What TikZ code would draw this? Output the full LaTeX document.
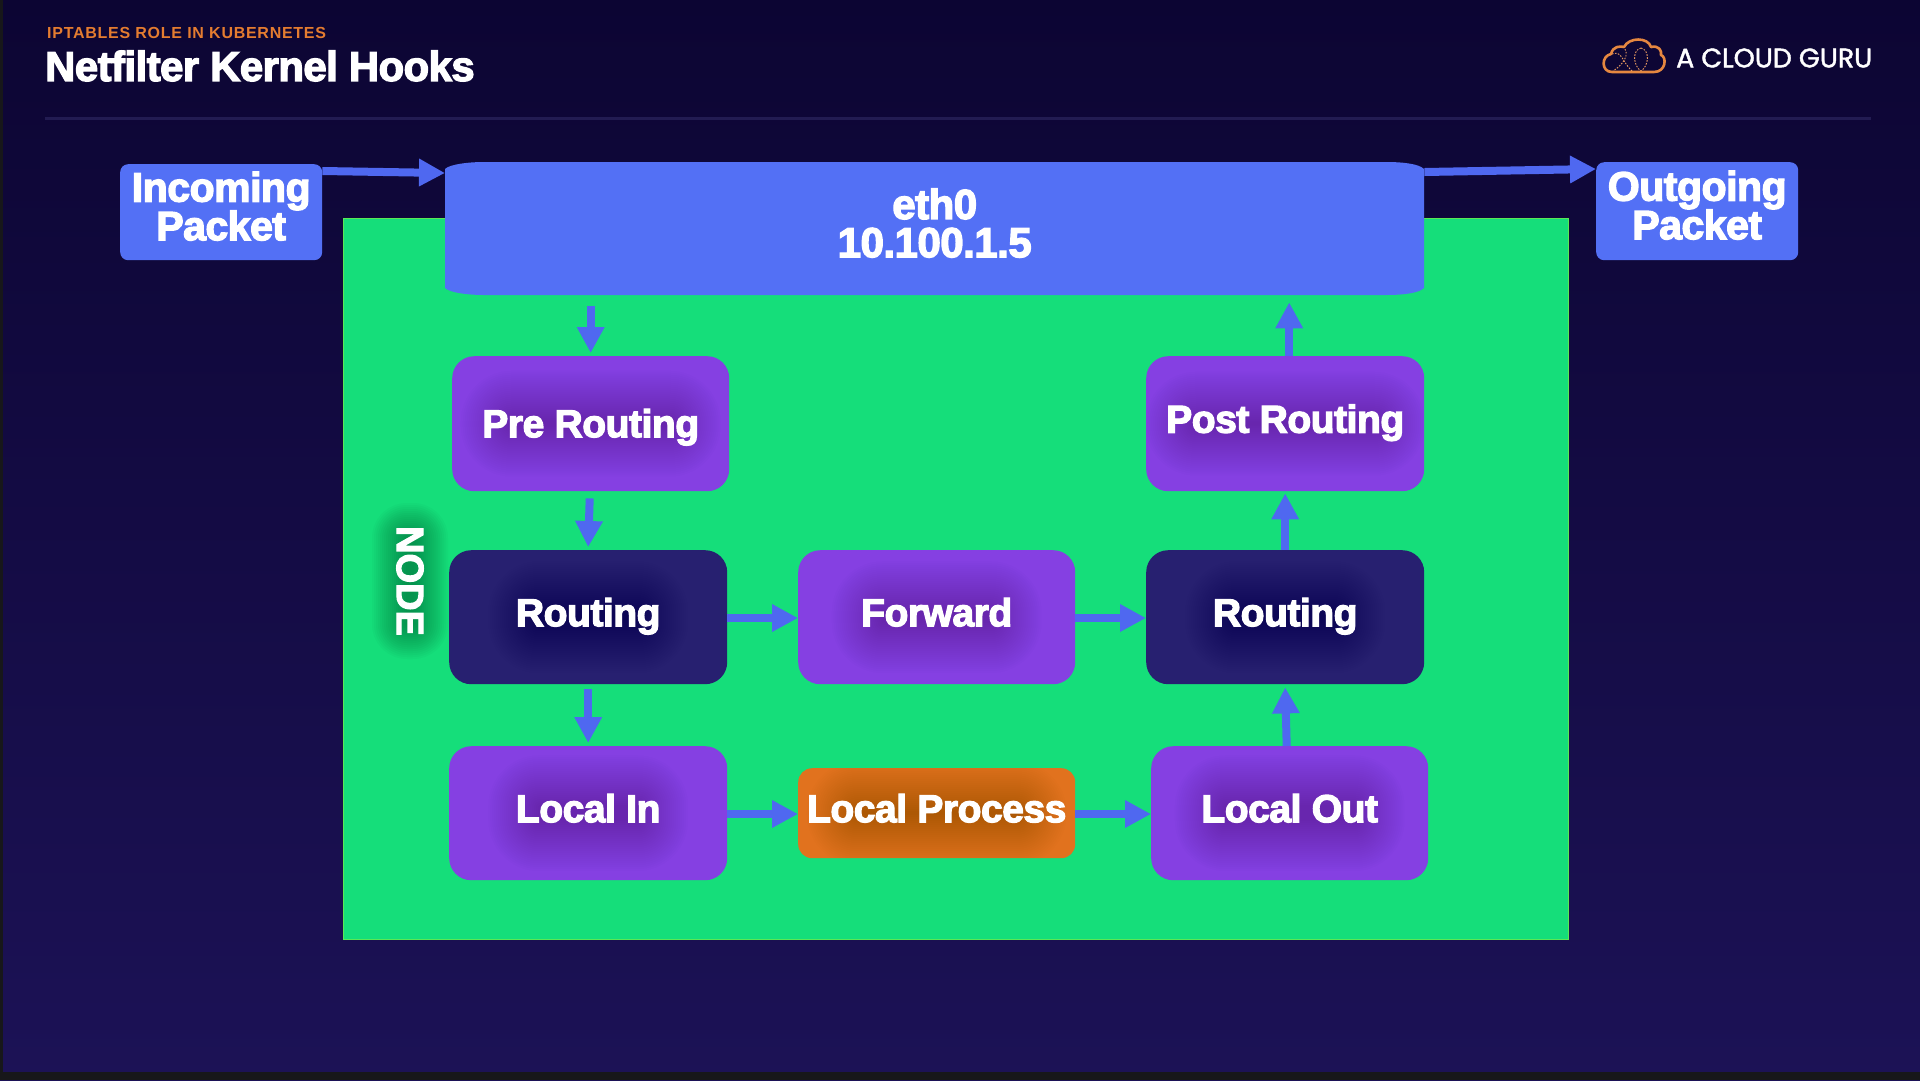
\documentclass[tikz,border=0pt]{standalone}
\usepackage{fontspec}
\setmainfont{Liberation Sans}
\newfontfamily\heavyfont[FakeBold=3.2,LetterSpace=-1.2]{Liberation Sans Bold}
\newfontfamily\sidefont[FakeBold=3]{Liberation Sans Bold}
\newfontfamily\subfont[LetterSpace=4.6]{Liberation Sans Bold}
\newfontfamily\brandfont[FakeBold=1.6]{Poppins}
\usetikzlibrary{arrows.meta,calc}
\definecolor{bgtop}{HTML}{0C0533}
\definecolor{bgbot}{HTML}{1C1256}
\definecolor{rulec}{HTML}{221B52}
\definecolor{edgebar}{HTML}{17171A}
\definecolor{nodegreen}{HTML}{15DE7A}
\definecolor{acgblue}{HTML}{5370F5}
\definecolor{acgarrow}{HTML}{4F68F0}
\definecolor{acgpurple}{HTML}{8540E2}
\definecolor{acgnavy}{HTML}{272070}
\definecolor{acgorange}{HTML}{E1721E}
\definecolor{kickerc}{HTML}{E47C30}
\newcommand{\softglow}[6]{% centre coordinate, half-width, half-height, colour, layer opacity, reach
  \foreach \spread in {0,2,...,#6}{
    \fill[#4,opacity=#5,rounded corners=\spread pt+1pt]
      ($(#1)+(-#2-\spread,-#3-\spread)$) rectangle ($(#1)+(#2+\spread,#3+\spread)$);
  }}
% text set on a baseline #1 points below the centre of its box
\newcommand{\onbase}[2]{\raisebox{-#1pt}[0pt][0pt]{#2}}
\newcommand{\twolines}[3]{\raisebox{-#1pt}[0pt][0pt]{\begin{tabular}[b]{@{}c@{}}#2\\[-2.5pt]#3\end{tabular}}}
\tikzset{
  x=1pt,y=-1pt,
  boxlabel/.style={text=white,font=\heavyfont\fontsize{39}{38}\selectfont,align=center,inner sep=0pt},
  hookbox/.style={boxlabel,rounded corners=22pt,minimum width=277pt,anchor=north west},
  glowing/.style 2 args={path picture={\softglow{path picture bounding box.center}{#1}{#2}{black}{.0095}{50}}},
  purplebox/.style={hookbox,fill=acgpurple,minimum height=134pt},
  navybox/.style={hookbox,fill=acgnavy,minimum height=134pt},
  packetbox/.style={boxlabel,fill=acgblue,rounded corners=8pt,minimum width=202pt,anchor=north west,font=\heavyfont\fontsize{41}{38}\selectfont},
  flow/.style={draw=acgarrow,line width=8pt,-{Triangle[length=26pt,width=26pt,fill=acgarrow]}},
}
\begin{document}
\begin{tikzpicture}
\useasboundingbox (0,0) rectangle (1920,1080);
% background
\shade[top color=bgtop,bottom color=bgbot,middle color=bgtop!50!bgbot] (0,0) rectangle (1920,1080);
\fill[edgebar] (0,0) rectangle (3,1080);
\fill[edgebar] (0,1072) rectangle (1920,1080);
\fill[rulec] (45,116.5) rectangle (1871,119.5);
% header
\node[anchor=west,inner sep=0pt,text=kickerc,font=\subfont\fontsize{16}{16}\selectfont] (kicker) at (47,33) {IPTABLES ROLE IN KUBERNETES};
\node[anchor=west,inner sep=0pt,text=white,font=\heavyfont\fontsize{41.8}{41.8}\selectfont] (title) at (45,66) {Netfilter Kernel Hooks};
\node[anchor=west,inner sep=0pt,text=white,font=\brandfont\fontsize{26.8}{26.8}\selectfont] (brand) at (1676,58) {A CLOUD GURU};
% cloud logo
\draw[acgorange!85!white,line width=2.6pt,line join=round]
  (1612,72) .. controls (1601,72) and (1601,56) .. (1611,54)
  .. controls (1613,46) and (1620,46) .. (1624,47)
  .. controls (1629,37) and (1648,37) .. (1651,47)
  .. controls (1659,45) and (1662,51) .. (1661,55)
  .. controls (1667,57) and (1666,72) .. (1654,72) -- cycle;
\draw[acgorange!70!white,line width=.9pt,dash pattern=on 1.6pt off 1.4pt]
  (1612,54) .. controls (1622,50) and (1622,62) .. (1632,71)
  (1625,49) .. controls (1630,58) and (1618,68) .. (1613,71)
  (1641,48) .. controls (1632,50) and (1633,66) .. (1641,71)
  (1641,48) .. controls (1650,50) and (1649,66) .. (1641,71);
% node area
\fill[nodegreen] (343,218) rectangle (1568,939);
\draw[nodegreen!70!yellow,line width=1pt] (343,218) rectangle (1568,939);
% NODE label
\coordinate (nodeglow) at (410,581);
\softglow{nodeglow}{4}{44}{black!70!nodegreen}{.03}{34}
\node[rotate=-90,inner sep=0pt,text=white,font=\sidefont\fontsize{38}{38}\selectfont] (nodelabel) at (410,581) {NODE};
% eth0 shape
\fill[acgblue] (445,169) .. controls (450,164) and (470,162) .. (483,162) -- (1386,162)
  .. controls (1404,162) and (1419,164) .. (1424,169) -- (1424,288)
  .. controls (1419,293) and (1404,295) .. (1386,295) -- (483,295)
  .. controls (470,295) and (450,293) .. (445,288) -- cycle;
\node[boxlabel,minimum width=979pt,minimum height=133pt,anchor=north west,font=\heavyfont\fontsize{42}{38}\selectfont] (eth) at (445,162) {\twolines{28.5}{eth0}{10.100.1.5}};
% packets
\node[packetbox,minimum height=96pt] (inpkt) at (120,164) {\twolines{28}{Incoming}{Packet}};
\node[packetbox,minimum height=98pt] (outpkt) at (1596,162) {\twolines{28}{Outgoing}{Packet}};
% hook boxes
\node[purplebox,glowing={80}{3},minimum height=135pt] (pre) at (452,356) {\onbase{13.5}{Pre Routing}};
\node[purplebox,glowing={90}{2},minimum width=278pt,minimum height=135pt] (post) at (1146,356) {\onbase{9}{Post Routing}};
\node[navybox,glowing={50}{6},minimum width=278pt] (routa) at (449,550) {\onbase{9}{Routing}};
\node[purplebox,glowing={55}{6}] (fwd) at (798,550) {\onbase{9}{Forward}};
\node[navybox,glowing={50}{6},minimum width=278pt] (routb) at (1146,550) {\onbase{9}{Routing}};
\node[purplebox,glowing={50}{8},minimum width=278pt] (lin) at (449,746) {\onbase{9}{Local In}};
\node[hookbox,glowing={80}{2},fill=acgorange,minimum height=90pt,rounded corners=14pt] (lproc) at (798,768) {\onbase{9}{Local Process}};
\node[purplebox,glowing={65}{8}] (lout) at (1151,746) {\onbase{9}{Local Out}};
% connectors
\draw[flow] ($(inpkt.north east)+(0,7)$) -- ($(eth.north west)+(0,11)$);
\draw[flow] ($(eth.north east)+(0,10)$) -- ($(outpkt.north west)+(0,7)$);
\draw[flow] ($(pre.north |- eth.south)+(0,11)$) -- ($(pre.north)+(0,-3)$);
\draw[flow] ($(pre.south)+(-1,7)$) -- ($(routa.north)+(0,-3)$);
\draw[flow] ($(routa.south)+(0,5)$) -- ($(lin.north)+(0,-3)$);
\draw[flow] (routa.east |- 0,618) -- (fwd.west |- 0,618);
\draw[flow] (fwd.east |- 0,618) -- (routb.west |- 0,618);
\draw[flow] (lin.east |- 0,814) -- (lproc.west |- 0,814);
\draw[flow] (lproc.east |- 0,814) -- (lout.west |- 0,814);
\draw[flow] ($(lout.north)+(-3,0)$) -- ($(routb.south)+(0,3)$);
\draw[flow] ($(routb.north)+(0,0)$) -- ($(post.south)+(0,2)$);
\draw[flow] ($(post.north)+(4,0)$) -- ($(eth.south -| post.north)+(4,7)$);
\end{tikzpicture}
\end{document}
